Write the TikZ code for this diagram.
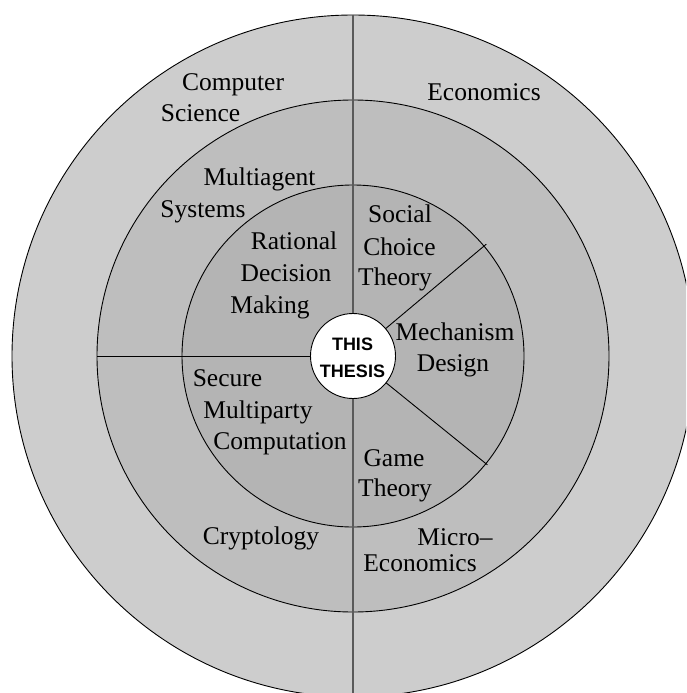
\documentclass[tikz,border=0pt]{standalone}
\usepackage{fontspec}
\setmainfont{Liberation Serif}
\newfontfamily\thesisfont{Liberation Sans}
\definecolor{ringout}{RGB}{205,205,205}
\definecolor{ringmid}{RGB}{190,190,190}
\definecolor{ringin}{RGB}{180,180,180}
\definecolor{vline}{RGB}{90,90,90}
\begin{document}
\begin{tikzpicture}[x=1pt,y=-1pt,
  lbl/.style={font=\fontsize{25.5}{30}\selectfont, anchor=base, inner sep=0pt},
  tlbl/.style={font=\thesisfont\bfseries\fontsize{18}{22}\selectfont, anchor=base, inner sep=0pt},
  ring/.style={draw=black, line width=0.9pt},
  sep/.style={draw=black, line width=0.9pt}]
\useasboundingbox (0,0) rectangle (686,693);
\clip (0,0) rectangle (686,693);
\coordinate (c) at (353,356);
% rings
\fill[ringout] (c) circle[radius=341pt];
\draw[ring] (c) circle[radius=341pt];
\fill[ringmid] (c) circle[radius=256pt];
\draw[ring] (c) circle[radius=256pt];
\fill[ringin] (c) circle[radius=171pt];
\draw[ring] (c) circle[radius=171pt];
% separators
\coordinate (vtop) at (353,15);
\coordinate (vbot) at (353,697);
\coordinate (hleft) at (97,356);
\draw[draw=vline, line width=1.1pt] (vtop) -- (vbot);
\draw[sep] (hleft) -- (c);
\draw[sep] (c) -- ++(40:174pt) coordinate (dup);
\draw[sep] (c) -- ++(-39:173pt) coordinate (ddown);
% centre
\node[circle, draw=black, line width=0.9pt, fill=white, minimum size=85pt, inner sep=0pt] (thesis) at (c) {};
\node[tlbl] (this) at (352.5,350.7) {THIS};
\node[tlbl] (thesistxt) at (352.5,377.7) {THESIS};
% labels
\node[lbl] (cs1) at (233,90) {Computer};
\node[lbl] (cs2) at (200.5,121.7) {Science};
\node[lbl] (eco) at (484,100) {Economics};
\node[lbl] (mas1) at (259.5,185) {Multiagent};
\node[lbl] (mas2) at (203,217.7) {Systems};
\node[lbl] (rdm1) at (294,249) {Rational};
\node[lbl] (rdm2) at (286,281.7) {Decision};
\node[lbl] (rdm3) at (270,313) {Making};
\node[lbl] (sct1) at (400,222) {Social};
\node[lbl] (sct2) at (399.5,255) {Choice};
\node[lbl] (sct3) at (395,285.7) {Theory};
\node[lbl] (md1) at (455,340) {Mechanism};
\node[lbl] (md2) at (453,371.7) {Design};
\node[lbl] (smc1) at (227.5,386) {Secure};
\node[lbl] (smc2) at (258,418) {Multiparty};
\node[lbl] (smc3) at (280,449.5) {Computation};
\node[lbl] (gt1) at (394,466) {Game};
\node[lbl] (gt2) at (395,496.5) {Theory};
\node[lbl] (cry) at (261,544) {Cryptology};
\node[lbl] (me1) at (455,545) {Micro--};
\node[lbl] (me2) at (420,571) {Economics};
\end{tikzpicture}
\end{document}
